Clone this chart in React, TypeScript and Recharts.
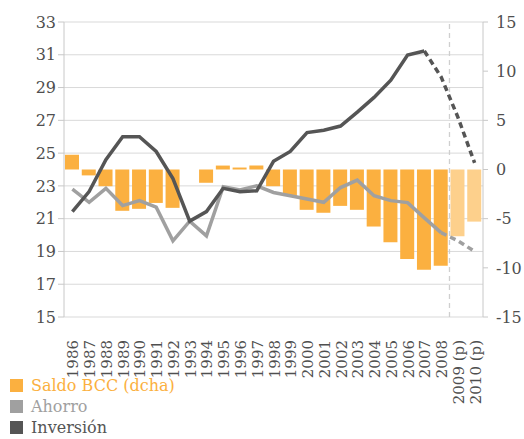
import { Bar, Cell, ComposedChart, CartesianGrid, Line, ReferenceLine, XAxis, YAxis } from "recharts";

const years = [
  "1986", "1987", "1988", "1989", "1990", "1991", "1992", "1993", "1994", "1995",
  "1996", "1997", "1998", "1999", "2000", "2001", "2002", "2003", "2004", "2005",
  "2006", "2007", "2008", "2009 (p)", "2010 (p)",
];

// % del PIB; saldo BCC en el eje derecho
const saldoBCC = [
  1.5, -0.6, -1.7, -4.2, -4.0, -3.4, -3.9, 0, -1.35, 0.4,
  0.2, 0.4, -1.7, -2.7, -4.1, -4.4, -3.7, -4.1, -5.8, -7.4,
  -9.1, -10.2, -9.8, -6.8, -5.3,
];
const ahorro = [
  22.8, 22.0, 22.85, 21.8, 22.1, 21.7, 19.65, 20.85, 19.95, 22.95,
  22.75, 23.0, 22.6, 22.4, 22.2, 22.0, 22.9, 23.35, 22.4, 22.1,
  21.98, 21.05, 20.15, 19.65, 19.0,
];
const inversion = [
  21.43, 22.65, 24.6, 26.0, 26.0, 25.1, 23.45, 20.85, 21.43, 22.85,
  22.65, 22.7, 24.5, 25.1, 26.25, 26.4, 26.65, 27.5, 28.4, 29.45,
  30.99, 31.23, 29.65, 27.2, 24.4,
];
const projected = [false, false, false, false, false, false, false, false, false, false,
  false, false, false, false, false, false, false, false, false, false,
  false, false, false, true, true];

const leftTicks = [15, 17, 19, 21, 23, 25, 27, 29, 31, 33];
const rightTicks = [-15, -10, -5, 0, 5, 10, 15];
const boundaryTicks = years.map((_, i) => i).concat([years.length]);

const ahorroDashFrom = 22; // 2008
const inversionDashFrom = 21; // 2007

const data = years.map((year, i) => ({
  year,
  saldo: saldoBCC[i],
  ahorroSolid: i <= ahorroDashFrom ? ahorro[i] : null,
  ahorroDash: i >= ahorroDashFrom ? ahorro[i] : null,
  invSolid: i <= inversionDashFrom ? inversion[i] : null,
  invDash: i >= inversionDashFrom ? inversion[i] : null,
}));

const FONT = "'DejaVu Serif', serif";
const TEXT = "#4F4F4F";
const ORANGE = "#FBB040";
const ORANGE_LIGHT = "#FDD08C";
const GRAY = "#A0A0A0";
const DARK = "#555555";
const AXIS = "#C8C8C8";

function YearTick({ x, y, payload }: any) {
  return (
    <text
      transform={`translate(${x + 6}, ${y + 15}) rotate(-90)`}
      textAnchor="end"
      fontFamily={FONT}
      fontSize={15}
      fill={TEXT}
    >
      {payload.value}
    </text>
  );
}

const legendItems = [
  { label: "Saldo BCC (dcha)", color: ORANGE },
  { label: "Ahorro", color: GRAY },
  { label: "Inversión", color: DARK },
];

export default function App() {
  return (
    <div style={{ position: "absolute", left: 0, top: 0, width: 524, height: 439, overflow: "hidden", background: "#fff" }}>
      <ComposedChart width={524} height={439} data={data} margin={{ top: 22, right: 0, bottom: 0, left: 0 }}>
        <CartesianGrid yAxisId="left" vertical={false} stroke="#D9D9D9" />
        <XAxis
          xAxisId="b"
          type="number"
          domain={[0, years.length]}
          ticks={boundaryTicks}
          tick={false}
          height={0}
          axisLine={{ stroke: AXIS }}
          tickLine={{ stroke: AXIS }}
          tickSize={5}
          allowDataOverflow
        />
        <XAxis
          dataKey="year"
          height={122}
          interval={0}
          axisLine={false}
          tickLine={false}
          tick={<YearTick />}
        />
        <YAxis
          yAxisId="left"
          domain={[15, 33]}
          ticks={leftTicks}
          width={64}
          axisLine={{ stroke: AXIS }}
          tickLine={{ stroke: AXIS }}
          tickSize={6}
          tick={{ fontFamily: FONT, fontSize: 16, fill: TEXT }}
        />
        <YAxis
          yAxisId="right"
          orientation="right"
          domain={[-15, 15]}
          ticks={rightTicks}
          width={41}
          axisLine={{ stroke: AXIS }}
          tickLine={{ stroke: AXIS }}
          tickSize={5}
          tickMargin={8}
          tick={{ fontFamily: FONT, fontSize: 16, fill: TEXT, textAnchor: "start" }}
        />
        <ReferenceLine
          yAxisId="left"
          x="2009 (p)"
          position="start"
          stroke="#CFCFCF"
          strokeWidth={1.3}
          strokeDasharray="5 4"
        />
        <Bar yAxisId="right" dataKey="saldo" barSize={14} isAnimationActive={false}>
          {data.map((_, i) => (
            <Cell key={i} fill={projected[i] ? ORANGE_LIGHT : ORANGE} />
          ))}
        </Bar>
        <Line yAxisId="left" dataKey="ahorroSolid" stroke={GRAY} strokeWidth={3.5} dot={false} isAnimationActive={false} />
        <Line yAxisId="left" dataKey="ahorroDash" stroke={GRAY} strokeWidth={3.5} strokeDasharray="6 4" dot={false} isAnimationActive={false} />
        <Line yAxisId="left" dataKey="invSolid" stroke={DARK} strokeWidth={3.5} dot={false} isAnimationActive={false} />
        <Line yAxisId="left" dataKey="invDash" stroke={DARK} strokeWidth={3.5} strokeDasharray="6 4" dot={false} isAnimationActive={false} />
      </ComposedChart>
      <div style={{ position: "absolute", left: 10, top: 375, fontFamily: FONT, fontSize: 16 }}>
        {legendItems.map((it) => (
          <div key={it.label} style={{ display: "flex", alignItems: "center", height: 21 }}>
            <span style={{ width: 13, height: 13, background: it.color, marginRight: 8, display: "inline-block" }} />
            <span style={{ color: it.color }}>{it.label}</span>
          </div>
        ))}
      </div>
    </div>
  );
}
